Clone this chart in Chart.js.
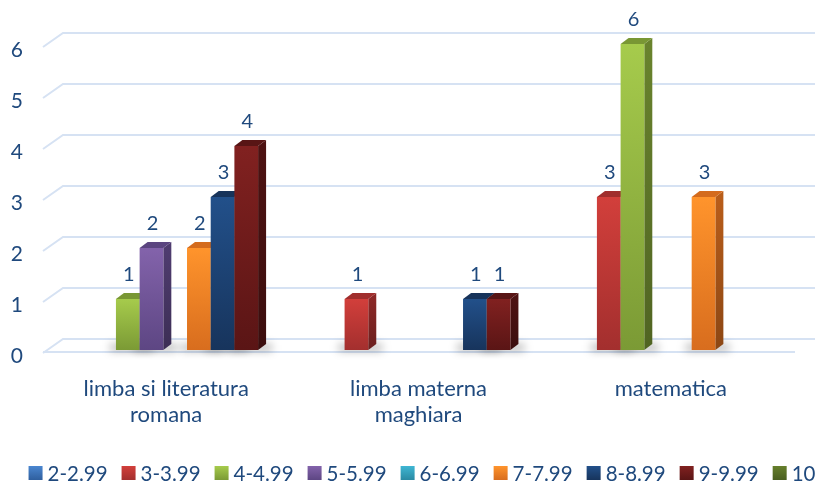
<!DOCTYPE html>
<html>
<head>
<meta charset="utf-8">
<script src="https://cdn.jsdelivr.net/npm/chart.js@4.4.0/dist/chart.umd.min.js"></script>
<style>
  html, body { margin: 0; padding: 0; background: #fff; }
  #wrap { width: 824px; height: 484px; }
</style>
</head>
<body>
<div id="wrap"><canvas id="chart"></canvas></div>
<script>
// ── Data ─────────────────────────────────────────────────────────────────────
const CATEGORIES = [['limba si literatura', 'romana'], ['limba materna', 'maghiara'], 'matematica'];
const SERIES = ['2-2.99', '3-3.99', '4-4.99', '5-5.99', '6-6.99', '7-7.99', '8-8.99', '9-9.99', '10'];

const grade2 = [0, 0, 0];
const grade3 = [0, 1, 3];
const grade4 = [1, 0, 6];
const grade5 = [2, 0, 0];
const grade6 = [0, 0, 0];
const grade7 = [2, 0, 3];
const grade8 = [3, 1, 0];
const grade9 = [4, 1, 0];
const grade10 = [0, 0, 0];

const Y_MIN = 0;
const Y_MAX = 6;

// ── Styles ───────────────────────────────────────────────────────────────────
const FACE_TOP = ['#4a86d0', '#d23f3b', '#a6cb4c', '#8363ab', '#3fb6d3', '#ff942c', '#22508a', '#812120', '#667f2c'];
const FACE_BOTTOM = ['#2f5f9e', '#a32f2e', '#7b9a35', '#5d4683', '#2a8aa3', '#d86d1e', '#17345c', '#5a1515', '#4a5f20'];
const TEXT_COLOR = '#1F497D';
const GRID_COLOR = '#d6e2f3';
const FONT = 'Lato, "Open Sans", sans-serif';
const DX = 8, DY = 6;

const seriesValues = [grade2, grade3, grade4, grade5, grade6, grade7, grade8, grade9, grade10];

function darken(hex, f) {
  const n = parseInt(hex.slice(1), 16);
  const r = Math.round(((n >> 16) & 255) * (1 - f));
  const g = Math.round(((n >> 8) & 255) * (1 - f));
  const b = Math.round((n & 255) * (1 - f));
  return `rgb(${r},${g},${b})`;
}

// ── 3D bars + grid ──────────────────────────────────────────────────────────
const bars3d = {
  id: 'bars3d',
  beforeDatasetsDraw(chart) {
    const { ctx, chartArea, scales } = chart;
    const y = scales.y;

    // back wall lines with a slanted left edge
    ctx.save();
    ctx.strokeStyle = GRID_COLOR;
    ctx.lineWidth = 2;
    for (let v = Y_MIN; v <= Y_MAX; v++) {
      const py = y.getPixelForValue(v);
      ctx.beginPath();
      ctx.moveTo(chartArea.left - 6, py + 3);
      ctx.lineTo(chartArea.left + 14, py - 11);
      ctx.lineTo(chartArea.right + 9, py - 11);
      ctx.stroke();
    }
    const p0 = y.getPixelForValue(0);
    ctx.beginPath();
    ctx.moveTo(chartArea.left - 6, p0 + 2);
    ctx.lineTo(chartArea.right - 11, p0 + 2);
    ctx.stroke();
    ctx.restore();

    // floor shadows
    chart.data.datasets.forEach((ds, i) => {
      chart.getDatasetMeta(i).data.forEach((el, j) => {
        if (!ds.data[j]) return;
        const l = el.x - el.width / 2;
        ctx.save();
        ctx.filter = 'blur(4px)';
        ctx.fillStyle = 'rgba(0,0,0,0.28)';
        ctx.fillRect(l - 6, el.base - 6, el.width + 20, 7);
        ctx.restore();
      });
    });

    // bars, left to right so neighbours hide side faces
    chart.data.datasets.forEach((ds, i) => {
      chart.getDatasetMeta(i).data.forEach((el, j) => {
        if (!ds.data[j]) return;
        const l = el.x - el.width / 2;
        const r = el.x + el.width / 2;
        const t = el.y;
        const b = el.base;

        const sg = ctx.createLinearGradient(0, t, 0, b);
        sg.addColorStop(0, darken(FACE_BOTTOM[i], 0.15));
        sg.addColorStop(1, darken(FACE_BOTTOM[i], 0.35));
        ctx.fillStyle = sg;
        ctx.beginPath();
        ctx.moveTo(r, t);
        ctx.lineTo(r + DX, t - DY);
        ctx.lineTo(r + DX, b - DY);
        ctx.lineTo(r, b);
        ctx.closePath();
        ctx.fill();

        ctx.fillStyle = darken(FACE_BOTTOM[i], 0.02);
        ctx.beginPath();
        ctx.moveTo(l, t);
        ctx.lineTo(l + DX, t - DY);
        ctx.lineTo(r + DX, t - DY);
        ctx.lineTo(r, t);
        ctx.closePath();
        ctx.fill();

        const fg = ctx.createLinearGradient(0, t, 0, b);
        fg.addColorStop(0, FACE_TOP[i]);
        fg.addColorStop(1, FACE_BOTTOM[i]);
        ctx.fillStyle = fg;
        ctx.fillRect(l, t, r - l, b - t);
      });
    });

    // value labels
    ctx.save();
    ctx.fillStyle = TEXT_COLOR;
    ctx.font = `20px ${FONT}`;
    ctx.textAlign = 'center';
    ctx.textBaseline = 'middle';
    chart.data.datasets.forEach((ds, i) => {
      chart.getDatasetMeta(i).data.forEach((el, j) => {
        if (!ds.data[j]) return;
        ctx.fillText(String(ds.data[j]), el.x + 1, el.y - 24);
      });
    });
    ctx.restore();

    return false;
  }
};

// ── Legend (one row, centred under the axis labels) ─────────────────────────
const bottomLegend = {
  id: 'bottomLegend',
  afterDraw(chart) {
    const { ctx } = chart;
    const box = 14, gapText = 5, gapItem = 14, cy = 473;
    ctx.save();
    ctx.font = `20.5px ${FONT}`;
    ctx.textBaseline = 'middle';
    const widths = SERIES.map(s => ctx.measureText(s).width);
    const total = widths.reduce((a, w) => a + box + gapText + w, 0) + gapItem * (SERIES.length - 1);
    let x = 422 - total / 2;
    SERIES.forEach((s, i) => {
      const g = ctx.createLinearGradient(0, cy - box / 2, 0, cy + box / 2);
      g.addColorStop(0, FACE_TOP[i]);
      g.addColorStop(1, FACE_BOTTOM[i]);
      ctx.fillStyle = g;
      ctx.fillRect(x, cy - box / 2, box, box);
      x += box + gapText;
      ctx.fillStyle = TEXT_COLOR;
      ctx.fillText(s, x, cy + 1);
      x += widths[i] + gapItem;
    });
    ctx.restore();
  }
};

// ── Chart ────────────────────────────────────────────────────────────────────
new Chart(document.getElementById('chart'), {
  type: 'bar',
  data: {
    labels: CATEGORIES,
    datasets: SERIES.map((name, i) => ({
      label: name,
      data: seriesValues[i],
      backgroundColor: FACE_TOP[i],
      borderWidth: 0,
    })),
  },
  options: {
    responsive: true,
    maintainAspectRatio: false,
    animation: false,
    datasets: { bar: { categoryPercentage: 0.845, barPercentage: 1 } },
    layout: { padding: { top: 44, left: 0, right: 18, bottom: 0 } },
    plugins: {
      legend: { display: false },
      tooltip: { enabled: false },
    },
    scales: {
      x: {
        grid: { display: false, drawTicks: false },
        border: { display: false },
        ticks: {
          color: TEXT_COLOR,
          font: { family: FONT, size: 22, lineHeight: 1.18 },
          padding: 26,
          labelOffset: -9,
          maxRotation: 0,
          autoSkip: false,
        },
        afterFit: s => { s.height = 134; },
      },
      y: {
        min: Y_MIN,
        max: Y_MAX,
        grid: { display: false, drawTicks: false },
        border: { display: false },
        ticks: {
          stepSize: 1,
          color: TEXT_COLOR,
          font: { family: FONT, size: 21 },
          padding: 26,
          labelOffset: 6,
        },
        afterFit: s => { s.width = 49; },
      },
    },
  },
  plugins: [bars3d, bottomLegend],
});
</script>
</body>
</html>
